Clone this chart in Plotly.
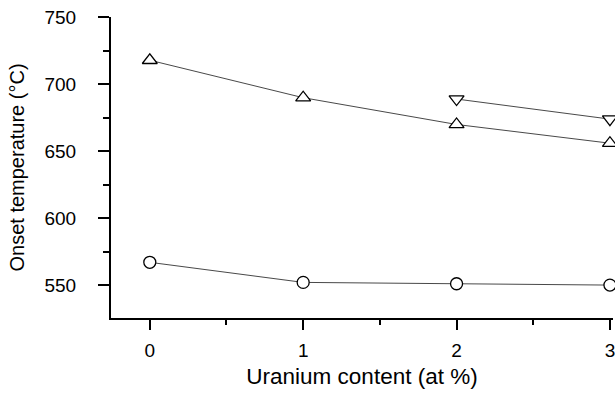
import plotly.graph_objects as go

uranium = [0, 1, 2, 3]
tri_up = [718, 690, 670, 656]
tri_down_x = [2, 3]
tri_down = [689, 674]
circles = [567, 552, 551, 550]

fig = go.Figure()

def add(x, y, sym, size):
    fig.add_trace(go.Scatter(
        x=x, y=y, mode="lines+markers", cliponaxis=False,
        line=dict(color="#333333", width=0.9),
        marker=dict(symbol=sym, size=size, color="white",
                    line=dict(color="black", width=1.3)),
        showlegend=False))

add(uranium, tri_up, "triangle-up", 13)
add(tri_down_x, tri_down, "triangle-down", 13)
add(uranium, circles, "circle", 12)

fam = "Liberation Sans, Arial, sans-serif"
tickfont = dict(family=fam, size=19, color="black")

fig.update_layout(
    width=615, height=396,
    margin=dict(l=111, r=0, t=17, b=78),
    plot_bgcolor="white", paper_bgcolor="white",
    font=tickfont,
    xaxis=dict(
        range=[-0.253, 3.02], tickvals=uranium, ticktext=[str(v) for v in uranium],
        ticklabeloverflow="allow", tickfont=tickfont, ticklabelstandoff=4,
        showgrid=False, zeroline=False, showline=True, linecolor="black", linewidth=2,
        ticks="outside", ticklen=10, tickwidth=2, tickcolor="black",
        minor=dict(tickvals=[0.5, 1.5, 2.5], ticks="outside", ticklen=5, tickwidth=2, tickcolor="black"),
        title=dict(text="Uranium content (at %)", font=dict(family=fam, size=22.5, color="black"), standoff=8),
    ),
    yaxis=dict(
        range=[525.4, 750.3], tickvals=[550, 600, 650, 700, 750],
        tickfont=tickfont, ticklabelstandoff=18,
        showgrid=False, zeroline=False, showline=True, linecolor="black", linewidth=2,
        ticks="outside", ticklen=11, tickwidth=2, tickcolor="black",
        minor=dict(tickvals=[575, 625, 675, 725], ticks="outside", ticklen=6, tickwidth=2, tickcolor="black"),
        title=dict(text="Onset temperature (°C)", font=dict(family=fam, size=20, color="black"), standoff=14),
    ),
)

fig.write_html("out.html")
